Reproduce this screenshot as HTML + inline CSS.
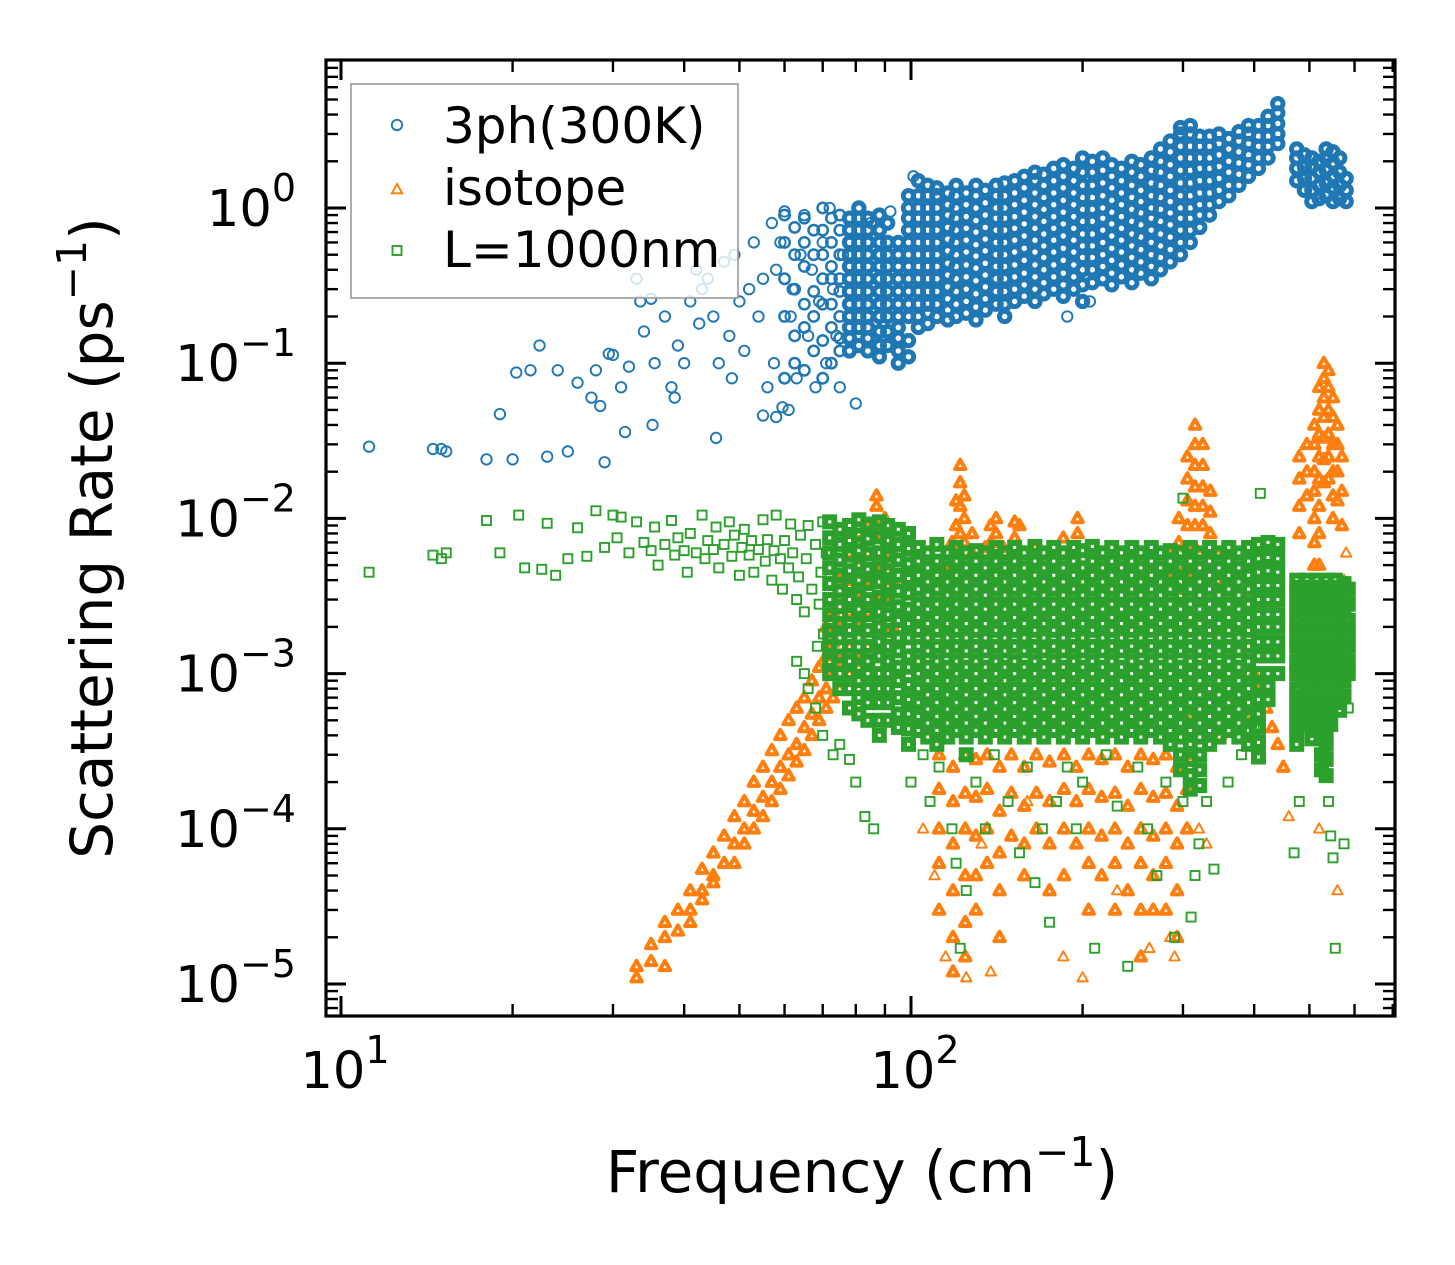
<!DOCTYPE html>
<html><head><meta charset="utf-8">
<style>
html,body{margin:0;padding:0;background:#fff;}
svg{display:block;font-family:"DejaVu Sans","Liberation Sans",sans-serif;}
</style></head>
<body>
<svg id="chart" width="1455" height="1265" viewBox="0 0 1455 1265" xmlns="http://www.w3.org/2000/svg">
<defs><clipPath id="plotclip"><rect x="326" y="60" width="1069" height="956"/></clipPath></defs>
<rect x="0" y="0" width="1455" height="1265" fill="#fff"/>
<g id="marks" clip-path="url(#plotclip)"></g>
<g id="axes"></g>
</svg>
<script>
// ---------- DATA ----------
const xTickValues = [10, 100];
const xTickExps = ["1", "2"];
const yTickValues = [1e-5, 1e-4, 1e-3, 1e-2, 1e-1, 1];
const yTickExps = ["\u22125", "\u22124", "\u22123", "\u22122", "\u22121", "0"];

// blue: 3ph(300K) sparse points [freq, rate]
const blueSparse = [[11.2,.029],[14.5,.028],[15,.028],[15.3,.027],[18,.024],[19,.047],[20,.024],[20.3,.087],[21.5,.09],[22.3,.13],[23,.025],[24,.09],[25,.027],[26,.075],[27.5,.06],[28,.09],[28.5,.053],[29,.023],[29.5,.115],[30,.113],[31,.07],[31.5,.036],[32,.095],[33,.35],[33.5,.25],[34,.16],[35,.26],[35.5,.1],[35.2,.04],[37,.2],[38,.07],[38.5,.06],[39,.13],[40,.1],[41,.25],[42,.4],[42.5,.18],[43,.3],[44,.35],[45,.2],[45.5,.033],[46,.1],[47,.45],[48,.15],[48.5,.08],[49,.5],[50,.25],[51,.12],[52,.3],[53,.6],[54,.2],[55,.35],[56,.07],[57,.8],[57.5,.1],[58,.4],[59,.6],[60,.95],[61,.05],[61.5,.2],[62,.3],[63,.08],[64,.5],[65,.9],[66,.15],[67,.4],[68,.07],[69,.25],[70,.6],[71,.1],[72,1.0],[73,.3],[74,.15],[75,.07],[76,.5],[58,.045],[59.5,.052],[55,.046],[80,.055],[85,.8],[92,.95],[101,1.6],[206,.25],[188,.2]];
// blue dense columns: frequencies and rates per column
const blueColFreq = [60,62.5,65,67.5,70,72.5,75,78,81,84,88,91,95,99,103,107,111,116,120,125,130,135,141,146,152,158,165,171,178,185,193,200,208,217,225,234,244,253,264,274,285,297,309,321,334,347,361,376,391,407,423,440,475,490,505,520,535,550,565,580];
const blueColRates = [
[.08,.2,.35,.6,.9],[.1,.15,.3,.5,.75],[.09,.17,.24,.42,.6,.86],[.12,.2,.29,.5,.72],[.08,.14,.24,.35,.5,.72,1.0],[.1,.17,.24,.35,.42,.6,.86],[.12,.145,.2,.29,.35,.5,.72,.9],
[.12,.145,.17,.2,.24,.29,.35,.42,.5,.6,.72,.86],[.13,.17,.2,.24,.29,.35,.42,.5,.6,.72,.86,1.0],[.12,.145,.17,.2,.24,.29,.35,.42,.5,.6,.72,.86],[.11,.13,.16,.2,.24,.29,.35,.42,.5,.6,.72,.9],[.13,.16,.2,.24,.29,.35,.42,.5,.6,.8],[.1,.12,.145,.17,.2,.24,.29,.35,.42,.5,.6],
[.11,.14,.2,.24,.29,.35,.42,.5,.6,.72,.86,1.0,1.2],[.17,.2,.24,.29,.35,.42,.5,.6,.72,.86,1.0,1.2,1.5],[.18,.21,.24,.29,.35,.42,.5,.6,.72,.86,1.0,1.2,1.4],[.2,.24,.29,.35,.42,.5,.6,.72,.86,1.0,1.2,1.35],[.19,.22,.26,.31,.37,.44,.53,.63,.75,.9,1.05,1.25],[.2,.24,.29,.35,.42,.5,.6,.72,.86,1.0,1.2,1.4],[.21,.25,.3,.36,.43,.52,.62,.74,.88,1.05,1.25],[.19,.23,.28,.34,.41,.49,.58,.7,.83,1.0,1.2,1.4],[.22,.26,.31,.37,.44,.53,.63,.75,.9,1.08,1.3],[.24,.29,.35,.42,.5,.6,.72,.86,1.0,1.2,1.4],[.2,.24,.29,.35,.42,.5,.6,.72,.86,1.0,1.2,1.45],[.25,.3,.36,.43,.52,.62,.74,.88,1.05,1.25,1.5],[.27,.32,.38,.46,.55,.66,.79,.94,1.12,1.35,1.6],[.25,.3,.36,.43,.52,.62,.74,.88,1.05,1.25,1.5,1.7],[.28,.33,.4,.48,.57,.68,.82,.98,1.17,1.4,1.65],[.3,.36,.43,.52,.62,.74,.88,1.05,1.25,1.5,1.8],[.27,.32,.38,.46,.55,.66,.79,.94,1.12,1.35,1.6,1.9],[.3,.36,.43,.52,.62,.74,.88,1.05,1.25,1.5,1.8],
[.25,.32,.4,.48,.57,.68,.82,.98,1.17,1.4,1.7,2.1],[.33,.4,.48,.57,.68,.82,.98,1.17,1.4,1.7,2.0],[.35,.42,.5,.6,.72,.86,1.0,1.2,1.45,1.75,2.1],[.32,.38,.46,.55,.66,.79,.94,1.12,1.35,1.6,1.9],[.36,.43,.52,.62,.74,.88,1.05,1.25,1.5,1.8],[.33,.4,.48,.57,.68,.82,.98,1.17,1.4,1.7,2.0],[.38,.45,.54,.65,.78,.93,1.1,1.3,1.6,1.9],[.35,.42,.5,.6,.72,.86,1.0,1.2,1.45,1.75,2.1],[.4,.48,.57,.68,.82,.98,1.17,1.4,1.7,2.0,2.4],[.45,.54,.65,.78,.93,1.1,1.3,1.6,1.9,2.3,2.7],[.5,.6,.72,.86,1.0,1.2,1.45,1.75,2.1,2.5,3.0,3.3],[.6,.72,.86,1.0,1.2,1.45,1.75,2.1,2.5,3.0,3.4],[.75,.9,1.05,1.25,1.5,1.8,2.1,2.5,2.9],[.9,1.05,1.25,1.5,1.8,2.1,2.5,2.9],[1.1,1.3,1.55,1.85,2.2,2.6,3.0],[1.2,1.4,1.7,2.0,2.4,2.8],[1.4,1.65,1.95,2.3,2.7,3.1],[1.6,1.9,2.2,2.6,3.0,3.4],[1.8,2.1,2.5,2.9,3.4],[2.1,2.5,2.9,3.4,3.9],[2.6,3.0,3.5,4.1,4.7],
[1.5,1.8,2.1,2.4],[1.3,1.55,1.85,2.2],[1.1,1.3,1.55,1.85,2.1],[1.15,1.4,1.7,2.0],[1.2,1.45,1.75,2.1,2.4],[1.1,1.35,1.6,1.95,2.3],[1.15,1.4,1.7,2.1],[1.1,1.3,1.55]];

// orange: isotope
const orangeColFreq = [33,35,37,39,41,43,45,47,49,51,53,55,57,59,61,63,65,67,69,71,73,75,78,81,84,87,90,93,
118,120,122,124,128,135,138,141,145,152,155,165,185,196,
112,118.5,124.5,130,136,143,150,158,166,175,185.5,195,205,216,228,240,253,266,280,293,305,
285,295,305.5,315,325,335,345,
400,410,420,430,440,450,
480,495,510,520,530,540,550,560,570];
const orangeColRates = [
[1.1e-5,1.3e-5],[1.4e-5,1.8e-5],[1.3e-5,2e-5,2.5e-5],[2.2e-5,3e-5],[3e-5,4e-5,2.5e-5],[4e-5,5.5e-5,3.5e-5],[5e-5,7e-5,4.5e-5],[6e-5,9e-5],[8e-5,1.2e-4,6e-5],[1e-4,1.5e-4,8e-5],[1.3e-4,2e-4,1e-4],[1.6e-4,2.5e-4,1.2e-4],[2e-4,3.2e-4,1.5e-4],[2.5e-4,4e-4,1.8e-4],[3e-4,5e-4,2.2e-4],[3.5e-4,6e-4,2.7e-4],[4.5e-4,7e-4,3.2e-4],[5.5e-4,9e-4,4e-4],[7e-4,1.1e-3,5e-4],[8e-4,1.3e-3,6e-4,2e-3],[1e-3,1.6e-3,7e-4,2.5e-3],[1.2e-3,2e-3,3e-3,8e-4,4e-3],[1.5e-3,2.5e-3,4e-3,1e-3,6e-3],[2e-3,3e-3,5e-3,7e-3,1.2e-3],[2.5e-3,4e-3,6e-3,9e-3,1.5e-3],[3e-3,5e-3,8e-3,1.2e-2,1.4e-2],[3e-3,5e-3,8e-3,1e-2],[2e-3,4e-3,6e-3],
[5e-3,7e-3],[6e-3,9e-3,1.3e-2],[8e-3,1.2e-2,1.7e-2,2.2e-2],[7e-3,1e-2,1.4e-2],[6e-3,8e-3],[6.5e-3],[7e-3,9e-3],[8e-3,1e-2],[6.5e-3],[7.5e-3,9.5e-3],[9e-3],[6.5e-3],[7.5e-3],[8e-3,1e-2],
[3e-4,1.8e-4,1e-4,6e-5,3e-5],[2.5e-4,1.5e-4,8e-5,4e-5,2e-5,1.2e-5],[3e-4,1.7e-4,1e-4,5e-5,2.5e-5,1.5e-5],[2.8e-4,1.6e-4,9e-5,5e-5,3e-5],[3e-4,1.8e-4,1e-4,6e-5],[2.5e-4,1.3e-4,7e-5,4e-5,2e-5],[3e-4,1.7e-4,9e-5],[2.5e-4,1.4e-4,8e-5,5e-5],[3e-4,1.7e-4,1e-4],[2.7e-4,1.5e-4,8e-5,4e-5],[3e-4,1.8e-4,1e-4,5e-5],[2.5e-4,1.5e-4,8e-5],[3e-4,1.8e-4,1e-4,6e-5,3e-5],[2.8e-4,1.6e-4,9e-5,5e-5],[3e-4,1.7e-4,1e-4,6e-5,3e-5],[2.5e-4,1.4e-4,8e-5,4e-5],[3e-4,1.8e-4,1e-4,6e-5,3e-5,1.5e-5],[2.8e-4,1.6e-4,9e-5,5e-5,3e-5],[3e-4,1.7e-4,1e-4,6e-5,3e-5],[2.5e-4,1.4e-4,8e-5,4e-5,2e-5],[3e-4,1.8e-4,1e-4],
[6e-3,4e-3],[1e-2,7e-3,5e-3,3.5e-3],[2.5e-2,1.8e-2,1.3e-2,9e-3,6.5e-3,4.5e-3],[4e-2,3e-2,2.2e-2,1.6e-2,1.2e-2,9e-3,6.5e-3],[3e-2,2.2e-2,1.6e-2,1.2e-2,9e-3],[1.5e-2,1.1e-2,8e-3],[6e-3,4e-3],
[1e-3],[8e-4],[6e-4],[4.5e-4],[3.5e-4],[2.5e-4],
[2.5e-2,1.8e-2,1.2e-2,8e-3],[3e-2,2e-2,1.4e-2],[4e-2,3e-2,2e-2,1.5e-2,1e-2,7e-3,5e-3],[7e-2,5e-2,3.5e-2,2.5e-2,1.8e-2,1.2e-2,8e-3,5e-3],[1e-1,8e-2,6e-2,4.5e-2,3.3e-2,2.4e-2,1.7e-2],[9e-2,7e-2,5e-2,3.5e-2,2.5e-2,1.8e-2],[6e-2,4.5e-2,3e-2,2e-2,1.4e-2,1e-2],[4e-2,3e-2,2e-2,1.3e-2],[2.5e-2,1.5e-2,9e-3]];
const orangeSparse = [[105,1e-4],[110,5e-5],[115,1.5e-5],[133,8e-5],[138,1.2e-5],[160,1.5e-4],[185,1.5e-5],[230,4e-5],[285,2e-5],[290,1.5e-5],[310,5e-4],[320,1e-4],[330,8e-5],[350,4e-4],[370,7e-4],[390,5e-4],[460,1.2e-4],[520,1e-4],[560,4e-5],[580,6e-3],[575,4e-3],[125,1.1e-5],[200,1.1e-5],[262,1.7e-5]];

// green: L=1000nm
const greenSparse = [[11.2,.0045],[14.5,.0058],[15,.0055],[15.3,.006],[18,.0097],[19,.006],[20.5,.0105],[21,.0048],[22.5,.0047],[23,.0093],[23.8,.0043],[25,.0055],[26,.0087],[27,.0057],[28,.0112],[29,.0065],[30,.0105],[30.5,.0075],[31,.0102],[32,.006],[33,.0095],[34,.007],[35,.0062],[35.5,.0088],[36,.005],[37,.0068],[38,.0097],[38.5,.0058],[39,.0075],[40,.0062],[40.5,.0045],[41,.008],[42,.006],[43,.0105],[43.5,.0055],[44,.0072],[45,.0063],[45.5,.0088],[46,.0048],[47,.0068],[48,.0095],[48.5,.0057],[49,.0078],[50,.0043],[50.5,.0065],[51,.0085],[52,.0058],[52.5,.0072],[53,.0045],[54,.0063],[55,.0098],[55.5,.0053],[56,.0073],[57,.004],[57.5,.0062],[58,.0105],[59,.0055],[59.5,.0035],[60,.0072],[61,.0048],[61.5,.0092],[62,.006],[63,.003],[63.5,.0042],[64,.0078],[65,.0025],[65.5,.0055],[66,.009],[67,.0035],[68,.0068],[68.5,.0015],[69,.0028],[69.5,.0045],[70,.0095],[70.2,.0018],[71,.006],[71.5,.0012],[72,.0022],
[63,.0012],[65,.001],[66,.0008],[68,.0006],[70,.0004],[73,.0003],[75,.00035],[78,.00028],[80,.0002],[83,.00012],[86,.0001],
[100,2e-4],[105,3e-4],[108,1.5e-4],[112,2.5e-4],[118,1e-4],[120,6e-5],[122,1.7e-5],[125,4e-5],[130,2e-4],[135,1e-4],[140,3e-4],[148,1.5e-4],[155,7e-5],[160,2.5e-4],[165,4.5e-5],[170,1e-4],[175,2.5e-5],[180,1.5e-4],[188,2.5e-4],[195,1e-4],[200,2e-4],[210,1.7e-5],[220,3e-4],[230,1.4e-4],[240,1.3e-5],[250,2.5e-4],[260,1e-4],[270,5e-5],[280,2e-4],[290,2e-5],[300,1.5e-4],[310,2.7e-5],[315,5e-5],[320,8e-5],[330,1.5e-4],[340,5.5e-5],[360,2e-4],[380,3e-4],[400,4.5e-4],
[470,7e-5],[480,1.5e-4],[530,3e-4],[540,1.5e-4],[545,9e-5],[550,6.5e-5],[555,1.7e-5],[575,8e-5],[585,6e-4],[410,.0145],[300,.0135]];
const greenColFreq = [72,75,78,81,84,88,91,95,99,103,107,111,116,120,125,130,135,141,146,152,158,165,171,178,185,193,200,208,217,225,234,244,253,264,274,285,297,309,321,334,347,361,376,391,407,423,440,475,485,495,505,515,525,535,545,555,565,575,585];
const greenColRates = [
[.0095,.0075,.006,.0048,.0038,.003,.0024,.0019,.0015,.0012,.001],
[.0085,.0068,.0054,.0043,.0034,.0027,.0021,.0017,.0013,.001,.0008],
[.009,.0072,.0058,.0046,.0037,.003,.0024,.0019,.0015,.0012,.001,.0008,.0006],
[.0098,.0078,.0062,.005,.004,.0032,.0026,.0021,.0017,.0013,.0011,.0009,.0007,.00055],
[.0092,.0074,.0059,.0047,.0038,.003,.0024,.0019,.0015,.0012,.001,.0008,.00065,.0005],
[.0095,.0076,.006,.0048,.0039,.0031,.0025,.002,.0016,.0013,.001,.0008,.00065,.0005,.0004],
[.009,.0072,.0058,.0046,.0037,.003,.0024,.0019,.0015,.0012,.001,.0008,.00065,.0005],
[.0085,.0068,.0054,.0043,.0034,.0027,.0022,.0017,.0014,.0011,.0009,.0007,.00055,.00045],
[.008,.0064,.0051,.0041,.0033,.0026,.0021,.0017,.0013,.0011,.00085,.00068,.00055,.00044,.00035],
[.0065,.0053,.0043,.0035,.0028,.0023,.0019,.0015,.0012,.001,.0008,.00065,.00053,.00043],
[.006,.0048,.0039,.0032,.0026,.0021,.0017,.0014,.0011,.0009,.00073,.00059,.00048,.00039],
[.0068,.0053,.0043,.0035,.0028,.0023,.0019,.0015,.0012,.001,.0008,.00065,.00053,.00043,.00035],
[.006,.0048,.0039,.0032,.0026,.0021,.0017,.0014,.0011,.0009,.00073,.00059,.00048,.00039],
[.0065,.0053,.0043,.0035,.0028,.0023,.0019,.0015,.0012,.001,.0008,.00065,.00053,.00043],
[.006,.0048,.0039,.0032,.0026,.0021,.0017,.0014,.0011,.0009,.00073,.00059,.00048,.00039,.0003],
[.0062,.0053,.0043,.0035,.0028,.0023,.0019,.0015,.0012,.001,.0008,.00065,.00053,.00043],
[.006,.0048,.0039,.0032,.0026,.0021,.0017,.0014,.0011,.0009,.00073,.00059,.00048,.00039],
[.0065,.0053,.0043,.0035,.0028,.0023,.0019,.0015,.0012,.001,.0008,.00065,.00053,.00043],
[.006,.0048,.0039,.0032,.0026,.0021,.0017,.0014,.0011,.0009,.00073,.00059,.00048,.00039],
[.0065,.0053,.0043,.0035,.0028,.0023,.0019,.0015,.0012,.001,.0008,.00065,.00053,.00043],
[.006,.0048,.0039,.0032,.0026,.0021,.0017,.0014,.0011,.0009,.00073,.00059,.00048,.00039],
[.0066,.0053,.0043,.0035,.0028,.0023,.0019,.0015,.0012,.001,.0008,.00065,.00053,.00043],
[.006,.0048,.0039,.0032,.0026,.0021,.0017,.0014,.0011,.0009,.00073,.00059,.00048,.00039],
[.0065,.0053,.0043,.0035,.0028,.0023,.0019,.0015,.0012,.001,.0008,.00065,.00053,.00043],
[.006,.0048,.0039,.0032,.0026,.0021,.0017,.0014,.0011,.0009,.00073,.00059,.00048,.00039],
[.0065,.0053,.0043,.0035,.0028,.0023,.0019,.0015,.0012,.001,.0008,.00065,.00053,.00043],
[.0062,.0048,.0039,.0032,.0026,.0021,.0017,.0014,.0011,.0009,.00073,.00059,.00048,.00039],
[.0066,.0053,.0043,.0035,.0028,.0023,.0019,.0015,.0012,.001,.0008,.00065,.00053,.00043],
[.006,.0048,.0039,.0032,.0026,.0021,.0017,.0014,.0011,.0009,.00073,.00059,.00048,.00039],
[.0065,.0053,.0043,.0035,.0028,.0023,.0019,.0015,.0012,.001,.0008,.00065,.00053,.00043],
[.006,.0048,.0039,.0032,.0026,.0021,.0017,.0014,.0011,.0009,.00073,.00059,.00048,.00039],
[.0065,.0053,.0043,.0035,.0028,.0023,.0019,.0015,.0012,.001,.0008,.00065,.00053,.00043],
[.006,.0048,.0039,.0032,.0026,.0021,.0017,.0014,.0011,.0009,.00073,.00059,.00048,.00039],
[.0065,.0053,.0043,.0035,.0028,.0023,.0019,.0015,.0012,.001,.0008,.00065,.00053,.00043],
[.006,.0048,.0039,.0032,.0026,.0021,.0017,.0014,.0011,.0009,.00073,.00059,.00048,.00039],
[.0062,.0053,.0043,.0035,.0028,.0023,.0019,.0015,.0012,.001,.0008,.00065,.00053,.00043,.00035],
[.006,.0048,.0039,.0032,.0026,.0021,.0017,.0014,.0011,.0009,.00073,.00059,.00048,.00039,.0003,.00024],
[.0065,.0053,.0043,.0035,.0028,.0023,.0019,.0015,.0012,.001,.0008,.00065,.00053,.00043,.00035,.00028,.00022,.00018],
[.006,.0048,.0039,.0032,.0026,.0021,.0017,.0014,.0011,.0009,.00073,.00059,.00048,.00039,.0003,.00024,.00019],
[.0065,.0053,.0043,.0035,.0028,.0023,.0019,.0015,.0012,.001,.0008,.00065,.00053,.00043,.00035],
[.006,.0048,.0039,.0032,.0026,.0021,.0017,.0014,.0011,.0009,.00073,.00059,.00048,.00039],
[.0065,.0053,.0043,.0035,.0028,.0023,.0019,.0015,.0012,.001,.0008,.00065,.00053,.00043],
[.006,.0048,.0039,.0032,.0026,.0021,.0017,.0014,.0011,.0009,.00073,.00059,.00048,.00039],
[.0065,.0053,.0043,.0035,.0028,.0023,.0019,.0015,.0012,.001,.0008,.00065,.00053,.00043,.00035],
[.0068,.0055,.0045,.0037,.003,.0024,.002,.0016,.0013,.001,.00083,.00068,.00055,.00045,.00036,.00029],
[.007,.0056,.0046,.0037,.003,.0024,.002,.0016,.0013,.001,.00083,.00068],
[.0068,.0055,.0045,.0037,.003,.0024,.002,.0016,.0013,.001],
[.004,.0033,.0027,.0022,.0018,.0015,.0012,.001,.0008,.00065,.00053,.00043,.00035],
[.0036,.003,.0025,.002,.0016,.0013,.0011,.0009,.00072,.00058,.00047],
[.004,.0033,.0027,.0022,.0018,.0015,.0012,.001,.0008,.00065,.00053],
[.0036,.003,.0025,.002,.0016,.0013,.0011,.0009,.00072,.00058,.00047,.00038],
[.004,.0033,.0027,.0022,.0018,.0015,.0012,.001,.0008,.00065,.00053,.00043],
[.0036,.003,.0025,.002,.0016,.0013,.0011,.0009,.00072,.00058,.00047,.00038,.0003,.00024],
[.004,.0033,.0027,.0022,.0018,.0015,.0012,.001,.0008,.00065,.00053,.00043,.00035,.00028,.00022],
[.0036,.003,.0025,.002,.0016,.0013,.0011,.0009,.00072,.00058,.00047],
[.004,.0033,.0027,.0022,.0018,.0015,.0012,.001,.0008,.00065],
[.0036,.003,.0025,.002,.0016,.0013,.0011,.0009,.00072,.00058],
[.0038,.0031,.0025,.002,.0016,.0013,.0011,.0009,.00072],
[.0035,.0028,.0022,.0018,.0015,.0012,.001]];

// ---------- SCALES ----------
const NS = "http://www.w3.org/2000/svg";
function xs(f){ return 341 + 570*(Math.log10(f) - 1); }
function ys(r){ return 208 - 155.2*Math.log10(r); }
const marks = document.getElementById('marks');
const axes = document.getElementById('axes');
function mk(tag, attrs, parent){
  const e = document.createElementNS(NS, tag);
  for (const k in attrs) e.setAttribute(k, attrs[k]);
  parent.appendChild(e);
  return e;
}
// sw = stroke width; dense clusters use heavier strokes to mimic overplotting
function drawCircle(g, f, r, sw){
  const el = mk('circle', {cx: xs(f), cy: ys(r), r: 5.2, fill: 'none', stroke: '#1f77b4', 'stroke-width': sw}, g);
  
  
}
function drawTri(g, f, r, sw){
  const x = xs(f), y = ys(r);
  const el = mk('polygon', {points: `${x},${y-5.5} ${x-5.2},${y+3.8} ${x+5.2},${y+3.8}`, fill: 'none', stroke: '#ff7f0e', 'stroke-width': sw, 'stroke-linejoin': 'round'}, g);
  
  
}
function drawSq(g, f, r, sw){
  const el = mk('rect', {x: xs(f)-4.5, y: ys(r)-4.5, width: 9, height: 9, fill: 'none', stroke: '#2ca02c', 'stroke-width': sw}, g);
  
  
}

const gBlue = mk('g', {}, marks);


blueSparse.forEach(p => drawCircle(gBlue, p[0], p[1], 1.9));
blueColFreq.forEach((f, i) => blueColRates[i].forEach(r => drawCircle(gBlue, f, r, f >= 78 ? 5 : 2.5)));

const gOrange = mk('g', {}, marks);


orangeColFreq.forEach((f, i) => orangeColRates[i].forEach(r => drawTri(gOrange, f, r, 4)));
orangeSparse.forEach(p => drawTri(gOrange, p[0], p[1], 1.9));

const gGreen = mk('g', {}, marks);


greenSparse.forEach(p => drawSq(gGreen, p[0], p[1], 1.9));
greenColFreq.forEach((f, i) => greenColRates[i].forEach(r => drawSq(gGreen, f, r, 6)));

// ---------- AXES ----------
const L = 326, R = 1395, T = 60, B = 1016;
const frame = mk('rect', {x: L, y: T, width: R-L, height: B-T, fill: 'none', stroke: '#000', 'stroke-width': 3.2}, axes);



const tickG = mk('g', {stroke: '#000'}, axes);


for (let e = -6; e <= 0; e++){
  for (let k = 1; k <= 9; k++){
    const v = k*Math.pow(10, e);
    const y = ys(v);
    if (y < T+1 || y > B-1) continue;
    const len = k === 1 ? 20 : 12, w = k === 1 ? 3 : 2.4;
    mk('line', {x1: L, x2: L+len, y1: y, y2: y, 'stroke-width': w}, tickG);
    mk('line', {x1: R, x2: R-len, y1: y, y2: y, 'stroke-width': w}, tickG);
  }
}
for (let e = 0; e <= 2; e++){
  for (let k = 1; k <= 9; k++){
    const v = k*Math.pow(10, e);
    const x = xs(v);
    if (x < L+1 || x > R-1) continue;
    const len = k === 1 ? 20 : 12, w = k === 1 ? 3 : 2.4;
    mk('line', {x1: x, x2: x, y1: B, y2: B-len, 'stroke-width': w}, tickG);
    mk('line', {x1: x, x2: x, y1: T, y2: T+len, 'stroke-width': w}, tickG);
  }
}
yTickValues.forEach((v, i) => {
  const t = mk('text', {x: 296, y: ys(v)+18, 'text-anchor': 'end', 'font-size': 51, fill: '#000'}, axes);
  
  
  t.appendChild(document.createTextNode('10'));
  const s = mk('tspan', {'font-size': 38, dy: -25}, t);
  s.textContent = yTickExps[i];
});
xTickValues.forEach((v, i) => {
  const t = mk('text', {x: xs(v)+4, y: 1088, 'text-anchor': 'middle', 'font-size': 51, fill: '#000'}, axes);
  
  
  t.appendChild(document.createTextNode('10'));
  const s = mk('tspan', {'font-size': 38, dy: -25}, t);
  s.textContent = xTickExps[i];
});
</script>
<svg style="position:absolute;left:0;top:0" width="1455" height="1265" viewBox="0 0 1455 1265" xmlns="http://www.w3.org/2000/svg">
<text x="862" y="1192" text-anchor="middle" font-size="58" font-family="DejaVu Sans, Liberation Sans, sans-serif">Frequency (cm<tspan font-size="41" dy="-26">−1</tspan><tspan dy="26">)</tspan></text>
<text transform="translate(112,538) rotate(-90)" text-anchor="middle" font-size="58" font-family="DejaVu Sans, Liberation Sans, sans-serif">Scattering Rate (ps<tspan font-size="41" dy="-26">−1</tspan><tspan dy="26">)</tspan></text>
<g>
<rect x="351" y="84" width="387" height="214" fill="#fff" fill-opacity="0.8" stroke="#999" stroke-width="1.6"/>
<circle cx="397" cy="125" r="5.2" fill="none" stroke="#1f77b4" stroke-width="1.9"/>
<text x="443" y="143" font-size="50" font-family="DejaVu Sans, Liberation Sans, sans-serif">3ph(300K)</text>
<polygon points="397,184 391.8,193.3 402.2,193.3" fill="none" stroke="#ff7f0e" stroke-width="1.9"/>
<text x="443" y="205" font-size="50" font-family="DejaVu Sans, Liberation Sans, sans-serif">isotope</text>
<rect x="392.5" y="246" width="9" height="9" fill="none" stroke="#2ca02c" stroke-width="1.9"/>
<text x="443" y="267" font-size="50" font-family="DejaVu Sans, Liberation Sans, sans-serif">L=1000nm</text>
</g>
</svg>
</body></html>
